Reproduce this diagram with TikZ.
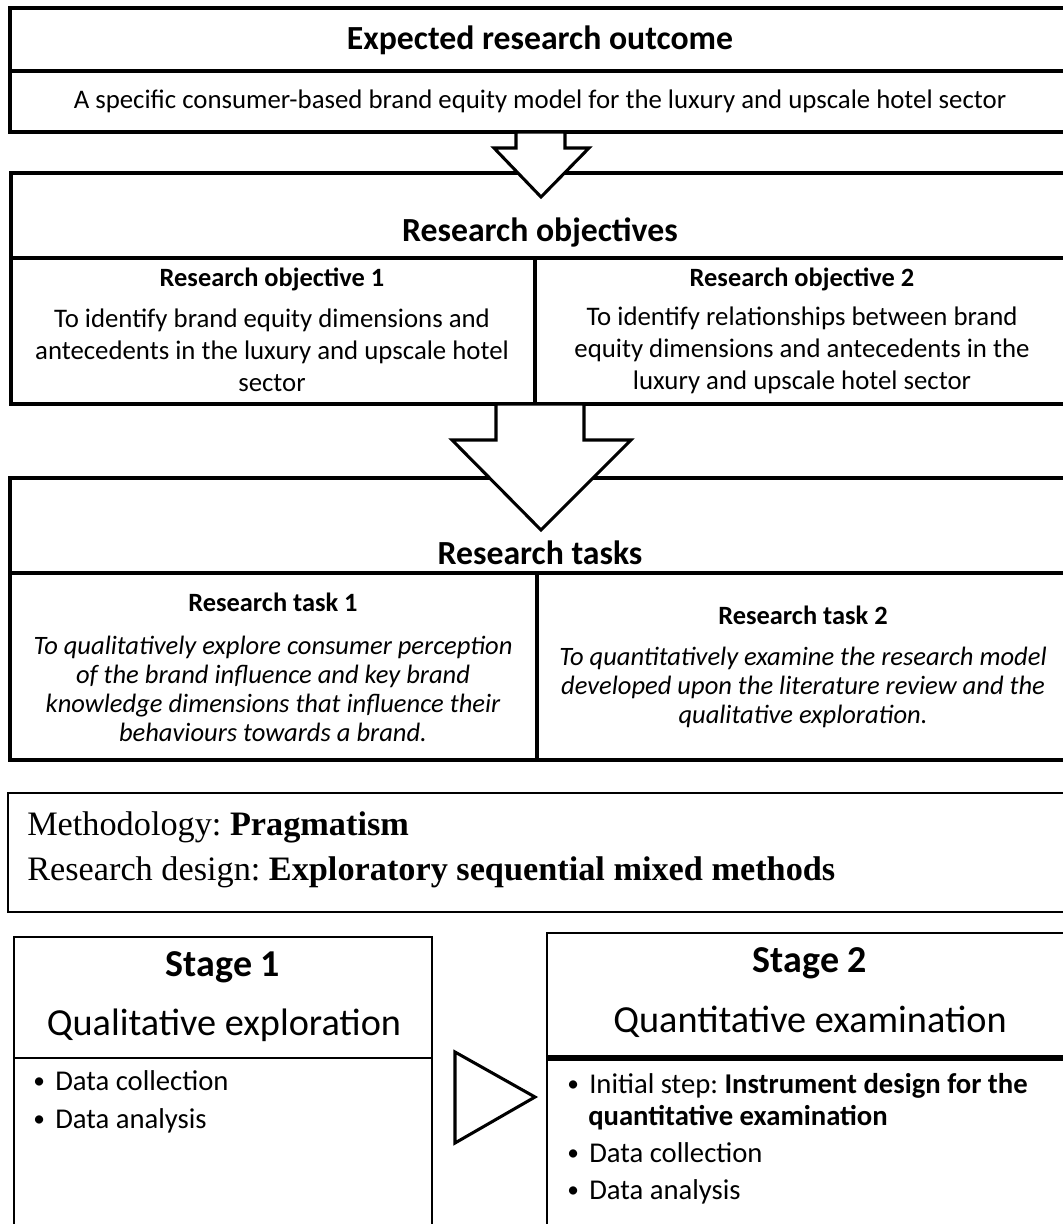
\documentclass[tikz,border=0pt]{standalone}
\usepackage{fontspec}
\setmainfont{Carlito}
\newfontfamily\timesfont{Liberation Serif}
\newcommand\bulmark{\makebox[16.5pt][l]{\raisebox{1.2pt}{\fontsize{17.5}{17.5}\selectfont •}}}
\frenchspacing
\begin{document}
\begin{tikzpicture}[x=0.75pt,y=-0.75pt,
  frame/.style={line width=2.5pt},
  thinframe/.style={line width=1.9pt},
  blockarrow/.style={draw,line width=2.3pt,fill=white,line join=miter},
  heading/.style={font=\fontsize{25.3}{30}\selectfont\bfseries},
  subhead/.style={font=\fontsize{19.8}{24}\selectfont\bfseries},
  plain/.style={font=\fontsize{20.1}{24}\selectfont,align=center},
  objtext/.style={font=\fontsize{20.1}{24}\selectfont,align=center},
  tasktext/.style={font=\fontsize{19.9}{21.8}\selectfont\itshape,align=center},
  stagehead/.style={font=\fontsize{28.5}{34}\selectfont\bfseries},
  stagename/.style={font=\fontsize{28.7}{34}\selectfont},
  bulletline/.style={font=\fontsize{21.5}{26}\selectfont,anchor=base west,inner sep=0pt},
  methline/.style={font=\fontsize{25.7}{30}\selectfont\timesfont,anchor=base west,inner sep=0pt}]
\useasboundingbox (0,0) rectangle (1063,1224);
\clip (0,0) rectangle (1063,1224);

% expected outcome block
\draw[frame] (10,8) rectangle (1080,132);
\draw[frame] (10,71) -- (1080,71);

% objectives block
\draw[frame] (11,173) rectangle (1080,404);
\draw[frame] (11,258) -- (1080,258);
\draw[frame] (535,258) -- (535,404);

% tasks block
\draw[frame] (10,478) rectangle (1080,760);
\draw[frame] (10,573) -- (1080,573);
\draw[frame] (537,573) -- (537,760);

% methodology block
\draw[thinframe] (8,793) rectangle (1080,912);

% stage blocks
\draw[thinframe] (14,937) rectangle (432,1240);
\draw[thinframe] (14,1058) -- (432,1058);
\draw[thinframe] (547,933) rectangle (1080,1240);
\draw[line width=4.5pt] (547,1058) -- (1080,1058);

% block arrows between the levels
\draw[blockarrow] (516,132) -- (516,148) -- (494,148) -- (541,197)
  -- (589,148) -- (565,148) -- (565,132) -- cycle;
\draw[blockarrow] (496,404) -- (496,440) -- (452,440) -- (541,530)
  -- (631,440) -- (584,440) -- (584,404) -- cycle;
\draw[line width=2.3pt,line join=miter] (455,1052) -- (535,1097) -- (455,1143) -- cycle;

% texts
\node[heading] (outcome) at (540,40) {Expected research outcome};
\node[plain] (model) at (540,101) {A specific consumer-based brand equity model for the luxury and upscale hotel sector};

\node[heading] (objectives) at (540,232) {Research objectives};
\node[subhead] (obj1) at (272,279) {Research objective 1};
\node[objtext] (obj1txt) at (272,350) {To identify brand equity dimensions and\\antecedents in the luxury and upscale hotel\\sector};
\node[subhead] (obj2) at (802,279) {Research objective 2};
\node[objtext] (obj2txt) at (802,350) {To identify relationships between brand\\equity dimensions and antecedents in the\\luxury and upscale hotel sector};

\node[heading] (tasks) at (540,553) {Research tasks};
\node[subhead] (task1) at (273,602) {Research task 1};
\node[tasktext] (task1txt) at (273,689) {To qualitatively explore consumer perception\\of the brand influence and key brand\\knowledge dimensions that influence their\\behaviours towards a brand.};
\node[subhead] (task2) at (803,615) {Research task 2};
\node[tasktext] (task2txt) at (803,687) {To quantitatively examine the research model\\developed upon the literature review and the\\qualitative exploration.};

\node[methline] (method) at (27,835) {Methodology: \textbf{Pragmatism}};
\node[methline] (design) at (27,880) {Research design: \textbf{Exploratory sequential mixed methods}};

\node[stagehead] (stage1) at (223,967) {Stage 1};
\node[stagename] (stage1name) at (224,1025) {Qualitative exploration};
\node[bulletline] (s1collect) at (33,1090) {\bulmark Data collection};
\node[bulletline] (s1analyse) at (33,1128) {\bulmark Data analysis};

\node[stagehead] (stage2) at (810,963) {Stage 2};
\node[stagename] (stage2name) at (810,1022) {Quantitative examination};
\node[bulletline] (s2design) at (567,1093) {\bulmark Initial step: \textbf{Instrument design for the}};
\node[bulletline] (s2design2) at (588,1125) {\textbf{quantitative examination}};
\node[bulletline] (s2collect) at (567,1162) {\bulmark Data collection};
\node[bulletline] (s2analyse) at (567,1199) {\bulmark Data analysis};
\end{tikzpicture}
\end{document}
